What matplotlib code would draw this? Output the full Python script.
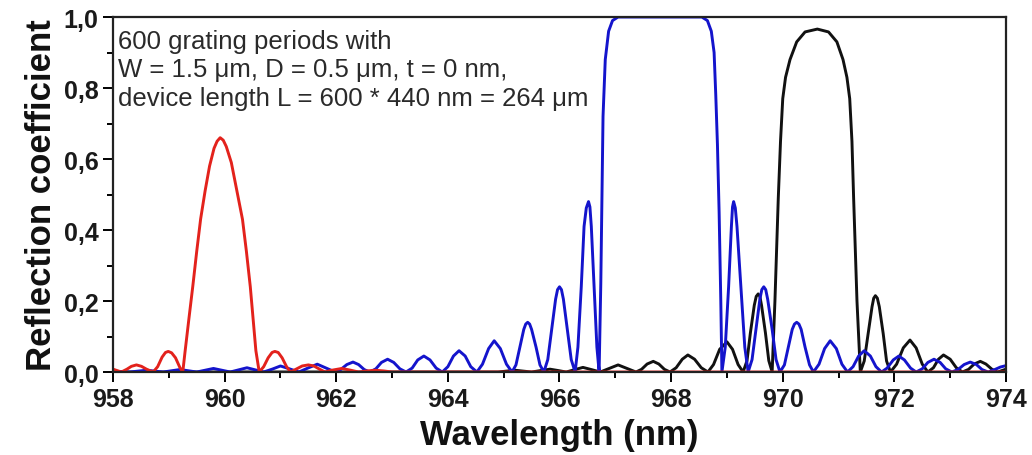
import numpy as np
import matplotlib.pyplot as plt

# -----------------------
# Curves (wavelength nm, reflection)
# -----------------------

red_pts = [
    (958.0, 0.008), (958.15, 0.0),
    (958.25, 0.008), (958.33, 0.016), (958.42, 0.02), (958.51, 0.016), (958.6, 0.008), (958.72, 0.0),
    (958.8, 0.015), (958.88, 0.042), (958.94, 0.055), (958.99, 0.058), (959.05, 0.054), (959.12, 0.04),
    (959.2, 0.012), (959.25, 0.0),
    (959.29, 0.056), (959.36, 0.15), (959.43, 0.242), (959.5, 0.34), (959.57, 0.431), (959.65, 0.51),
    (959.73, 0.58), (959.81, 0.63), (959.865, 0.65), (959.92, 0.66), (959.975, 0.653), (960.03, 0.635),
    (960.12, 0.59), (960.22, 0.51),
    (960.32, 0.43), (960.39, 0.34), (960.46, 0.24), (960.56, 0.06), (960.62, 0.0),
    (960.7, 0.015), (960.78, 0.04), (960.85, 0.055), (960.9, 0.058), (960.96, 0.055), (961.03, 0.04),
    (961.11, 0.015), (961.18, 0.0),
    (961.28, 0.008), (961.39, 0.017), (961.5, 0.02), (961.6, 0.017), (961.7, 0.008), (961.8, 0.0),
    (961.92, 0.005), (962.1, 0.01), (962.26, 0.005), (962.4, 0.0),
    (962.55, 0.003), (962.7, 0.005), (962.85, 0.003), (963.0, 0.0), (974.0, 0.0),
]

blue_pts = [
    (958.0, 0.002), (958.3, 0.0),
    (958.45, 0.0025), (958.6, 0.005), (958.75, 0.0025), (958.9, 0.0),
    (959.05, 0.0035), (959.2, 0.007), (959.35, 0.0035), (959.5, 0.0),
    (959.65, 0.005), (959.8, 0.01), (959.95, 0.005), (960.1, 0.0),
    (960.25, 0.006), (960.4, 0.012), (960.55, 0.006), (960.7, 0.0),
    (960.86, 0.0085), (961.0, 0.017), (961.17, 0.0085), (961.33, 0.0),
    (961.49, 0.011), (961.66, 0.022), (961.82, 0.011), (961.98, 0.0),
    (962.08, 0.007), (962.19, 0.021), (962.3, 0.028), (962.4, 0.021), (962.5, 0.007), (962.6, 0.0),
    (962.71, 0.009), (962.81, 0.027), (962.92, 0.036), (963.03, 0.027), (963.14, 0.009), (963.25, 0.0),
    (963.36, 0.011), (963.46, 0.034), (963.57, 0.045), (963.68, 0.034), (963.79, 0.011), (963.9, 0.0),
    (964.0, 0.015), (964.1, 0.045), (964.2, 0.06), (964.31, 0.045), (964.41, 0.015), (964.52, 0.0),
    (964.62, 0.022), (964.73, 0.066), (964.83, 0.088), (964.94, 0.066), (965.05, 0.022), (965.15, 0.0),
    (965.22, 0.02), (965.29, 0.07), (965.36, 0.12), (965.395, 0.135), (965.43, 0.14), (965.465, 0.135),
    (965.5, 0.12), (965.58, 0.07), (965.65, 0.02), (965.72, 0.0),
    (965.79, 0.035), (965.86, 0.12), (965.93, 0.205), (965.965, 0.232), (966.0, 0.24), (966.035, 0.232),
    (966.07, 0.205), (966.14, 0.12), (966.21, 0.035), (966.28, 0.0),
    (966.33, 0.07), (966.39, 0.24), (966.44, 0.41), (966.48, 0.462), (966.52, 0.48), (966.545, 0.465),
    (966.57, 0.41), (966.62, 0.24), (966.67, 0.07), (966.71, 0.0),
    (966.74, 0.25), (966.76, 0.49), (966.78, 0.72), (966.82, 0.88), (966.88, 0.96), (966.95, 0.99),
    (967.05, 1.0), (968.55, 1.0), (968.65, 0.99), (968.72, 0.96), (968.77, 0.9), (968.8, 0.78),
    (968.83, 0.64), (968.86, 0.45), (968.89, 0.2), (968.91, 0.0),
    (968.97, 0.07), (969.03, 0.24), (969.08, 0.41), (969.1, 0.465), (969.12, 0.48), (969.15, 0.462),
    (969.18, 0.41), (969.25, 0.24), (969.32, 0.07), (969.38, 0.0),
    (969.45, 0.035), (969.52, 0.12), (969.59, 0.205), (969.625, 0.232), (969.66, 0.24), (969.695, 0.232),
    (969.73, 0.205), (969.81, 0.12), (969.88, 0.035), (969.95, 0.0),
    (970.03, 0.02), (970.1, 0.07), (970.17, 0.12), (970.21, 0.135), (970.25, 0.14), (970.29, 0.135),
    (970.33, 0.12), (970.4, 0.07), (970.48, 0.02), (970.55, 0.0),
    (970.65, 0.022), (970.75, 0.066), (970.85, 0.088), (970.96, 0.066), (971.06, 0.022), (971.16, 0.0),
    (971.26, 0.015), (971.36, 0.045), (971.46, 0.06), (971.57, 0.045), (971.67, 0.015), (971.77, 0.0),
    (971.87, 0.011), (971.98, 0.034), (972.08, 0.045), (972.18, 0.034), (972.29, 0.011), (972.39, 0.0),
    (972.5, 0.009), (972.6, 0.027), (972.71, 0.036), (972.82, 0.027), (972.92, 0.009), (973.03, 0.0),
    (973.14, 0.007), (973.25, 0.021), (973.36, 0.028), (973.47, 0.021), (973.57, 0.007), (973.68, 0.0),
    (973.8, 0.007), (973.9, 0.014), (974.0, 0.018),
]

black_pts = [
    (958.0, 0.0), (964.9, 0.0),
    (965.05, 0.0025), (965.2, 0.005), (965.35, 0.0025), (965.5, 0.0),
    (965.66, 0.004), (965.83, 0.008), (965.98, 0.004), (966.12, 0.0),
    (966.27, 0.0065), (966.42, 0.013), (966.58, 0.0065), (966.73, 0.0),
    (966.89, 0.01), (967.05, 0.02), (967.21, 0.01), (967.37, 0.0),
    (967.47, 0.0075), (967.57, 0.0225), (967.68, 0.03), (967.78, 0.0225), (967.88, 0.0075), (967.98, 0.0),
    (968.09, 0.012), (968.2, 0.036), (968.3, 0.048), (968.42, 0.036), (968.54, 0.012), (968.66, 0.0),
    (968.76, 0.021), (968.87, 0.064), (969.0, 0.085), (969.1, 0.064), (969.2, 0.021), (969.29, 0.0),
    (969.36, 0.032), (969.42, 0.11), (969.49, 0.188), (969.525, 0.213), (969.56, 0.22), (969.59, 0.213),
    (969.62, 0.188), (969.69, 0.11), (969.75, 0.032), (969.81, 0.0),
    (969.86, 0.2), (969.92, 0.49), (969.96, 0.65), (970.0, 0.77), (970.05, 0.83), (970.13, 0.88),
    (970.25, 0.93), (970.4, 0.958), (970.62, 0.966), (970.82, 0.958), (970.97, 0.93), (971.08, 0.88),
    (971.15, 0.83), (971.2, 0.77), (971.24, 0.65), (971.27, 0.49), (971.33, 0.2), (971.39, 0.0),
    (971.46, 0.031), (971.53, 0.108), (971.6, 0.184), (971.63, 0.208), (971.66, 0.215), (971.695, 0.208),
    (971.73, 0.184), (971.8, 0.108), (971.86, 0.031), (971.93, 0.0),
    (972.04, 0.022), (972.16, 0.068), (972.28, 0.09), (972.39, 0.068), (972.5, 0.022), (972.6, 0.0),
    (972.7, 0.012), (972.79, 0.036), (972.88, 0.048), (973.0, 0.036), (973.11, 0.012), (973.22, 0.0),
    (973.33, 0.0075), (973.43, 0.0225), (973.54, 0.03), (973.64, 0.0225), (973.75, 0.0075), (973.85, 0.0),
    (974.0, 0.008),
]

x_ticks = [958, 960, 962, 964, 966, 968, 970, 972, 974]
y_ticks = [0.0, 0.2, 0.4, 0.6, 0.8, 1.0]
y_tick_labels = ["0,0", "0,2", "0,4", "0,6", "0,8", "1,0"]

note = ("600 grating periods with\n"
        "W = 1.5 \u03bcm, D = 0.5 \u03bcm, t = 0 nm,\n"
        "device length L = 600 * 440 nm = 264 \u03bcm")

# -----------------------
# Plot
# -----------------------

plt.rcParams["font.family"] = ["Liberation Sans", "DejaVu Sans"]

fig = plt.figure(figsize=(10.32, 4.56), dpi=100)
ax = fig.add_axes([0.1095, 0.182, 0.8653, 0.7785])

for pts, col in [(black_pts, "#111111"), (blue_pts, "#1414cc"), (red_pts, "#e3221c")]:
    wl, r = zip(*pts)
    ax.plot(wl, r, color=col, lw=2.1, solid_joinstyle="round")

ax.set_xlim(958, 974)
ax.set_ylim(0, 1.0)

ax.set_xticks(x_ticks)
ax.set_xticks(np.arange(959, 974, 2), minor=True)
ax.set_yticks(y_ticks)
ax.set_yticklabels(y_tick_labels)
ax.set_yticks(np.arange(0.1, 1.0, 0.2), minor=True)

ax.tick_params(which="both", direction="out", width=1.4, top=False, right=False)
ax.tick_params(which="major", length=7, labelsize=18)
ax.tick_params(which="minor", length=4)
for lab in ax.get_xticklabels() + ax.get_yticklabels():
    lab.set_fontweight("bold")
    lab.set_color("#1a1a1a")

for s in ax.spines.values():
    s.set_linewidth(1.6)
    s.set_color("#222222")

ax.set_xlabel("Wavelength (nm)", fontsize=25, fontweight="bold", color="#111111")
ax.set_ylabel("Reflection coefficient", fontsize=25, fontweight="bold", color="#111111")
ax.xaxis.set_label_coords(0.5, -0.13)
ax.yaxis.set_label_coords(-0.062, 0.5)

ax.text(0.006, 0.967, note, transform=ax.transAxes, ha="left", va="top",
        fontsize=18.5, color="#2a2a2a", linespacing=1.25)

fig.savefig("out.png", dpi=100)
plt.close(fig)
